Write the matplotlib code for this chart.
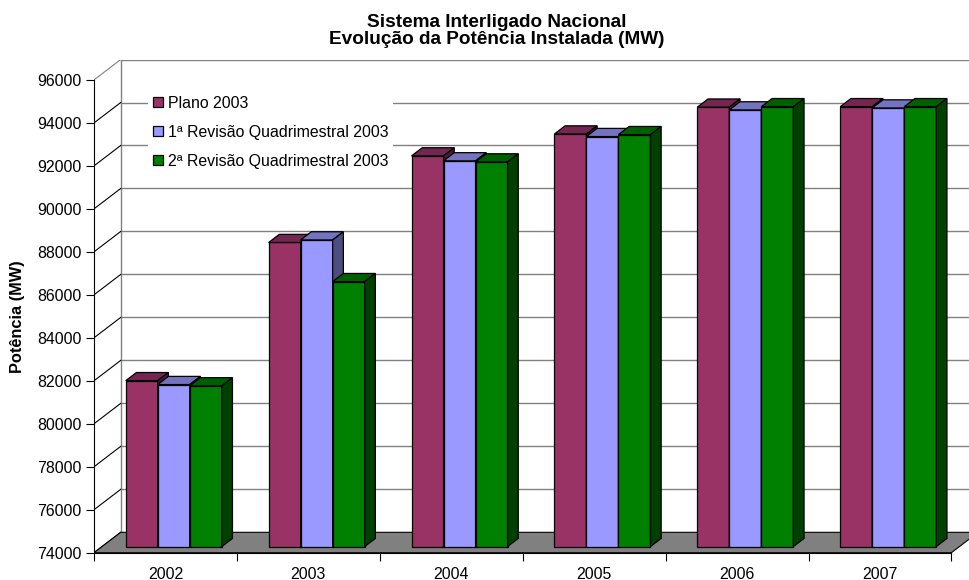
import matplotlib
matplotlib.use("Agg")
import matplotlib.pyplot as plt
from matplotlib.patches import Polygon, Patch

plt.rcParams['font.family'] = ['Liberation Sans', 'DejaVu Sans']

# data
anos = ["2002", "2003", "2004", "2005", "2006", "2007"]
series = ["Plano 2003", "1ª Revisão Quadrimestral 2003", "2ª Revisão Quadrimestral 2003"]
plano = [81720, 88150, 92180, 93200, 94450, 94470]
rev1 = [81540, 88270, 91950, 93080, 94320, 94410]
rev2 = [81480, 86330, 91900, 93170, 94470, 94470]
yticks = list(range(74000, 96001, 2000))

front_cols = ["#993366", "#9999FF", "#008000"]
top_cols = ["#732650", "#7373BF", "#006000"]
side_cols = ["#4D1A33", "#4D4D80", "#004000"]

base = 74000
DX = 0.187      # depth offset in category units
DY = 949        # depth offset in value units
f0, f1 = 0.3, 0.7   # bar front / back depth fraction

fig = plt.figure(figsize=(9.69, 5.80), dpi=100)
ax = fig.add_axes([94 / 969, (580 - 552.7) / 580, (969 - 94) / 969, 492.7 / 580])
ax.set_xlim(0, 875 / 142.9)
ax.set_ylim(base, base + 492.7 / 21.49 * 1000)
n = len(anos)
xr = ax.get_xlim()[1]

# back wall gridlines
for v in yticks[1:]:
    ax.plot([DX, xr], [v + DY, v + DY], color="#808080", lw=1, zorder=1)
ax.plot([DX, DX], [base + DY, yticks[-1] + DY], color="#808080", lw=1, zorder=1)
# side wall lines
for v in yticks:
    c = "#808080" if v == yticks[-1] else "black"
    ax.plot([0, DX], [v, v + DY], color=c, lw=0.8, zorder=1)

# floor
ax.add_patch(Polygon([(0, base), (n, base), (n + DX, base + DY), (DX, base + DY)],
                     closed=True, facecolor="#808080", edgecolor="black", lw=0.8, zorder=2))

bw = 0.224
g0 = 0.166
for i in range(n):
    for s, vals in enumerate([plano, rev1, rev2]):
        v = vals[i]
        x0 = i + g0 + s * bw
        ax.bar(x0 + f0 * DX, v - base, width=bw, bottom=base + f0 * DY, align="edge",
               color=front_cols[s], edgecolor="black", lw=0.9, zorder=3)
        top = [(x0 + f0 * DX, v + f0 * DY), (x0 + bw + f0 * DX, v + f0 * DY),
               (x0 + bw + f1 * DX, v + f1 * DY), (x0 + f1 * DX, v + f1 * DY)]
        side = [(x0 + bw + f0 * DX, base + f0 * DY), (x0 + bw + f0 * DX, v + f0 * DY),
                (x0 + bw + f1 * DX, v + f1 * DY), (x0 + bw + f1 * DX, base + f1 * DY)]
        ax.add_patch(Polygon(top, closed=True, facecolor=top_cols[s], edgecolor="black",
                             lw=0.9, zorder=3))
        ax.add_patch(Polygon(side, closed=True, facecolor=side_cols[s], edgecolor="black",
                             lw=0.9, zorder=3))

# axes
for sp in ["top", "right"]:
    ax.spines[sp].set_visible(False)
ax.spines["left"].set_bounds(base, yticks[-1])
ax.spines["bottom"].set_bounds(0, n)
ax.spines["left"].set_zorder(4)
ax.spines["bottom"].set_zorder(4)
ax.set_yticks(yticks)
ax.set_yticklabels([str(v) for v in yticks])
ax.set_xticks(range(n + 1))
ax.set_xticklabels([""] * (n + 1))
ax.set_xticks([i + 0.5 for i in range(n)], minor=True)
ax.set_xticklabels(anos, minor=True)
ax.tick_params(axis="y", length=5.8, width=0.8, pad=3, labelsize=11.4)
ax.tick_params(axis="x", which="major", length=5.8, width=0.8)
ax.tick_params(axis="x", which="minor", length=0, pad=10, labelsize=11.4)

handles = [Patch(facecolor=front_cols[s], edgecolor="black", lw=0.9) for s in range(3)]
leg = fig.legend(handles, series, loc="upper left", bbox_to_anchor=(148 / 969, 1 - 91 / 580),
                 frameon=True, fancybox=False, edgecolor="none", facecolor="white",
                 framealpha=1, fontsize=11.4, handlelength=0.65, handleheight=0.65,
                 handletextpad=0.3, labelspacing=0.88, borderpad=0.3, borderaxespad=0)

fig.text(497 / 969, 1 - 31 / 580, "Sistema Interligado Nacional\nEvolução da Potência Instalada (MW)",
         ha="center", va="center", fontsize=13.7, fontweight="bold", linespacing=1.05)
fig.text(18 / 969, 1 - 317 / 580, "Potência (MW)", rotation=90, ha="center", va="center",
         fontsize=11.8, fontweight="bold")

fig.savefig("out.png", dpi=100)
